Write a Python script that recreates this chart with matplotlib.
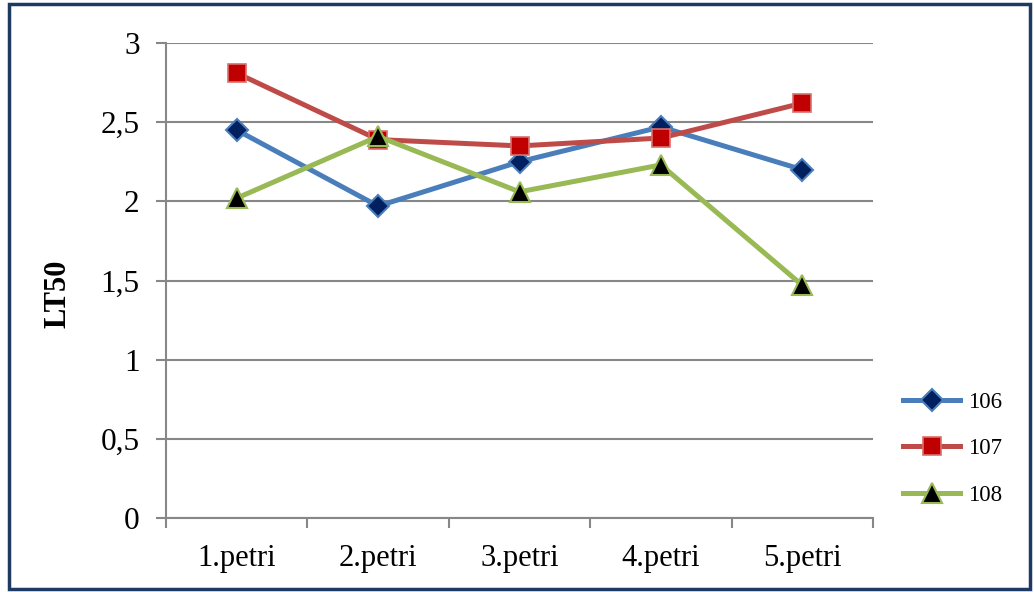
import matplotlib
matplotlib.use("Agg")
import matplotlib.pyplot as plt
from matplotlib.patches import Rectangle
from matplotlib.ticker import FuncFormatter

categories = ["1.petri", "2.petri", "3.petri", "4.petri", "5.petri"]
s106 = [2.45, 1.97, 2.25, 2.47, 2.20]
s107 = [2.81, 2.39, 2.35, 2.40, 2.62]
s108 = [2.02, 2.41, 2.06, 2.23, 1.47]
series_names = ["106", "107", "108"]
yticks = [0, 0.5, 1, 1.5, 2, 2.5, 3]

plt.rcParams['font.family'] = ['Liberation Serif', 'DejaVu Serif']

W, H = 1034, 592
fig = plt.figure(figsize=(W / 100, H / 100), dpi=100)
ax = fig.add_axes([166 / W, (H - 518) / H, 707 / W, 475 / H])

x = list(range(len(categories)))
grid_c = "#878787"

ax.plot(x, s106, color="#4A7EBB", lw=3.6, marker="D", ms=11, mfc="#002060",
        mec="#4A7EBB", mew=1.5, label=series_names[0], zorder=3)
ax.plot(x, s107, color="#BE4B48", lw=3.6, marker="s", ms=12.5, mfc="#C00000",
        mec="#D9706D", mew=1.2, label=series_names[1], zorder=3)
ax.plot(x, s108, color="#98B954", lw=3.6, marker="^", ms=14, mfc="black",
        mec="#98B954", mew=1.5, label=series_names[2], zorder=3)

ax.set_xlim(-0.5, len(categories) - 0.5)
ax.set_ylim(0, 3)
ax.set_yticks(yticks)
ax.yaxis.set_major_formatter(FuncFormatter(lambda v, p: ("%g" % v).replace(".", ",")))
ax.set_xticks(x)
ax.set_xticklabels(categories)
ax.set_xticks([i - 0.5 for i in range(len(categories) + 1)], minor=True)
ax.tick_params(axis="x", which="major", length=0, labelsize=22, pad=19)
ax.tick_params(axis="x", which="minor", length=7, width=1.5, color=grid_c, direction="out")
ax.tick_params(axis="y", length=7, width=1.5, color=grid_c, labelsize=22.5, pad=12)

ax.grid(axis="y", color=grid_c, lw=1.5)
ax.set_axisbelow(True)
for s in ["top", "right"]:
    ax.spines[s].set_visible(False)
for s in ["left", "bottom"]:
    ax.spines[s].set_color(grid_c)
    ax.spines[s].set_linewidth(1.5)

fig.text(58 / W, 1 - 294 / H, "LT50", rotation=90, fontsize=22, fontweight="bold",
         ha="center", va="center")

leg = fig.legend(loc="upper left", bbox_to_anchor=(903 / W, 1 - 392 / H),
                 frameon=False, fontsize=16.5, handlelength=2.5, labelspacing=1.1,
                 handletextpad=0.36, borderaxespad=0, borderpad=0)

fig.patches.append(Rectangle((9 / W, 3 / H), 1021 / W, 585 / H, transform=fig.transFigure,
                             fill=False, edgecolor="#1F3A60", lw=2.5))

fig.savefig("out.png", dpi=100)
